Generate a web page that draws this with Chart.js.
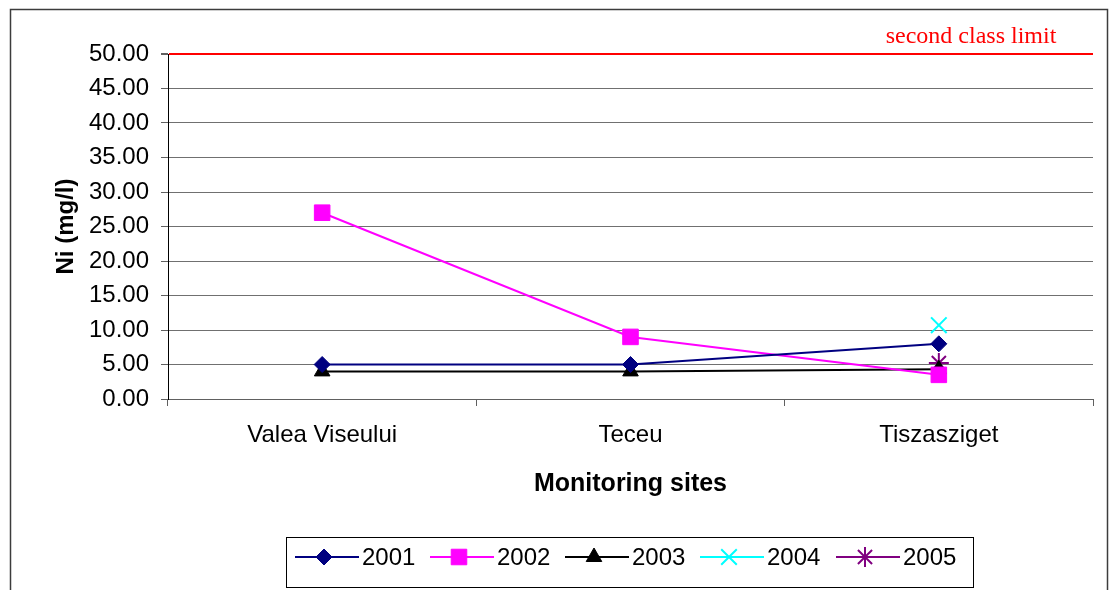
<!DOCTYPE html>
<html>
<head>
<meta charset="utf-8">
<script src="https://cdn.jsdelivr.net/npm/chart.js@4"></script>
<style>
  html, body { margin: 0; padding: 0; background: #fff; }
  #wrap { width: 1116px; height: 590px; }
</style>
</head>
<body>
<div id="wrap"><canvas id="myChart" width="1116" height="590"></canvas></div>
<script>
// chart data
const sites = ['Valea Viseului', 'Teceu', 'Tiszasziget'];
const years = ['2001', '2002', '2003', '2004', '2005'];
const ni2001 = [5.0, 5.0, 8.0];
const ni2002 = [27.0, 9.0, 3.5];
const ni2003 = [4.0, 4.0, 4.3];
const ni2004 = [null, null, 10.7];
const ni2005 = [null, null, 5.2];
const yTicks = [0, 5, 10, 15, 20, 25, 30, 35, 40, 45, 50];
const classLimit = 50;
const limitLabel = 'second class limit';

const sans = '"Liberation Sans", Arial, sans-serif';
const ctx = document.getElementById('myChart').getContext('2d');

function series(label, data, color, pointStyle, radius) {
  return {
    label, data,
    borderColor: color, backgroundColor: color,
    borderWidth: 2, pointStyle, pointRadius: radius,
    pointBorderWidth: pointStyle === 'crossRot' || pointStyle === 'star' ? 2 : 1,
    pointHoverRadius: radius, tension: 0, spanGaps: false
  };
}

// outer frame, limit label and the Excel-style legend
const frameAndLegend = {
  id: 'frameAndLegend',
  afterDraw(chart) {
    const c = chart.ctx;
    c.save();
    c.strokeStyle = '#3c3c3c';
    c.lineWidth = 1.5;
    c.strokeRect(10.5, 9.5, 1097, 620);

    c.fillStyle = '#ff0000';
    c.font = '24px "Liberation Serif", "Times New Roman", serif';
    c.textAlign = 'center';
    c.textBaseline = 'middle';
    c.fillText(limitLabel, 971, 37);

    // legend box
    c.strokeStyle = '#000';
    c.lineWidth = 1;
    c.strokeRect(286.5, 537.5, 687, 50);
    const starts = [295, 430, 565, 700, 836];
    c.font = '24px ' + sans;
    c.textAlign = 'left';
    chart.data.datasets.forEach((ds, i) => {
      const x0 = starts[i], y = 557;
      c.strokeStyle = ds.borderColor;
      c.lineWidth = 2;
      c.beginPath();
      c.moveTo(x0, y);
      c.lineTo(x0 + 64, y);
      c.stroke();
      c.fillStyle = ds.backgroundColor;
      c.lineWidth = ds.pointBorderWidth;
      Chart.helpers.drawPoint(c, {
        pointStyle: ds.pointStyle, radius: ds.pointRadius, borderWidth: ds.pointBorderWidth, rotation: 0
      }, x0 + 29, y);
      c.fillStyle = '#000';
      c.fillText(ds.label, x0 + 67, y + 1);
    });
    c.restore();
  }
};

const niChart = new Chart(ctx, {
  type: 'line',
  data: {
    labels: sites,
    datasets: [
      series(years[0], ni2001, '#000080', 'rectRot', 8),
      series(years[1], ni2002, '#ff00ff', 'rect', 11),
      series(years[2], ni2003, '#000000', 'triangle', 9),
      series(years[3], ni2004, '#00ffff', 'crossRot', 11),
      series(years[4], ni2005, '#800080', 'star', 10)
    ]
  },
  options: {
    responsive: false,
    animation: false,
    layout: { padding: { left: 0, right: 23, top: 54, bottom: 81 } },
    plugins: { legend: { display: false }, tooltip: { enabled: false } },
    scales: {
      x: {
        offset: true,
        afterFit(scale) { scale.height = 110; },
        grid: { offset: true, drawOnChartArea: false, tickLength: 7, color: '#606060' },
        border: { color: '#606060', width: 1 },
        ticks: { color: '#000', padding: 15, font: { family: sans, size: 24 } },
        title: {
          display: true, text: 'Monitoring sites', color: '#000',
          font: { family: sans, size: 25, weight: 'bold' },
          padding: { top: 0, bottom: 10 }
        }
      },
      y: {
        min: 0, max: 50,
        afterFit(scale) { scale.width = 168; },
        afterBuildTicks(scale) { scale.ticks = yTicks.map(v => ({ value: v })); },
        grid: {
          tickLength: 7,
          tickColor: '#606060',
          color: c => (c.tick && c.tick.value === classLimit) ? '#ff0000' : '#707070',
          lineWidth: c => (c.tick && c.tick.value === classLimit) ? 2 : 1
        },
        border: { color: '#000', width: 1 },
        ticks: {
          color: '#000', padding: 12,
          font: { family: sans, size: 24 },
          callback: v => Number(v).toFixed(2)
        },
        title: {
          display: true, text: 'Ni (mg/l)', color: '#000',
          font: { family: sans, size: 24, weight: 'bold' },
          padding: { top: 52, bottom: 0 }
        }
      }
    }
  },
  plugins: [frameAndLegend]
});
</script>
</body>
</html>
